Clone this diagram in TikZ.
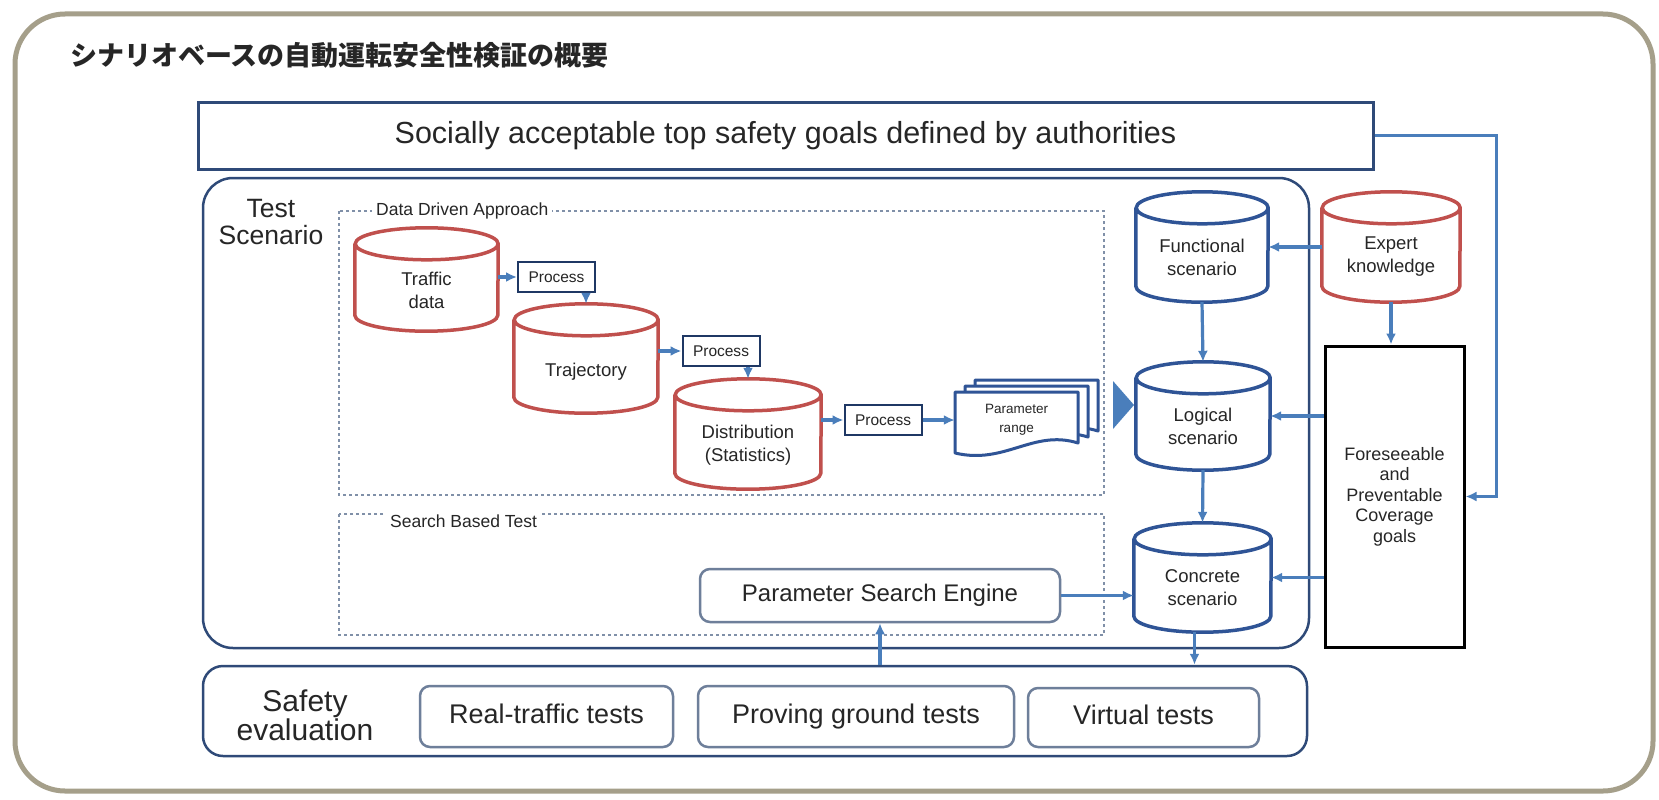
\documentclass[tikz,border=0pt]{standalone}
\usepackage{fontspec}
\setmainfont{Liberation Sans}
\newfontfamily\cjk{Noto Sans CJK JP}
\usetikzlibrary{arrows.meta,calc}

\definecolor{framec}{HTML}{A59F8A}
\definecolor{navy}{HTML}{2F4A78}
\definecolor{procc}{HTML}{1F3864}
\definecolor{cylblue}{HTML}{2F5496}
\definecolor{cylred}{HTML}{C0504D}
\definecolor{arrowc}{HTML}{4A7EBB}
\definecolor{dashc}{HTML}{8090A8}
\definecolor{boxgrey}{HTML}{6E7F9A}
\definecolor{textc}{HTML}{262626}

\newcommand\fs[2]{\fontsize{#1}{#2}\selectfont}

% outline of a vertical drum around a rectangular node
\newcommand\drawcyl[3]{%
  \draw[#2] ([yshift=-16pt]#1.north west) -- ([yshift=16pt]#1.south west)
    arc[start angle=180,end angle=360,x radius=#3pt,y radius=16pt]
    -- ([yshift=-16pt]#1.north east)
    arc[start angle=0,end angle=360,x radius=#3pt,y radius=16pt];}

% one sheet of a document stack
\newcommand\docsheet[4]{%
  \draw[docline] (#1,#2) -- (#3,#2) -- (#3,#4-10)
    .. controls ($(#3,#4-10)+(-45,-14)$) and ($(#1,#4)+(50,12)$) .. (#1,#4) -- cycle;}

\tikzset{
  every node/.style={text=textc},
  arr/.style={draw=arrowc, line width=3.2pt, -{Latex[length=11pt,width=10pt]}},
  slot/.style={rectangle, inner sep=0pt, draw=none},
  bluecyl/.style={draw=cylblue, line width=3.5pt, fill=white},
  redcyl/.style={draw=cylred, line width=3.5pt, fill=white},
  cyltext/.style={align=center, font=\fs{18.5}{23}},
  procbox/.style={rectangle, draw=procc, line width=2pt, fill=white, inner sep=0pt,
    minimum width=77pt, minimum height=30pt, font=\fs{15.5}{18}},
  container/.style={rectangle, draw=navy, line width=2.5pt, inner sep=0pt},
  dashbox/.style={draw=dashc, line width=1.6pt, dash pattern=on 3pt off 3pt},
  dashlabel/.style={anchor=west, fill=white, inner sep=4pt, font=\fs{17.5}{20}},
  testbox/.style={rectangle, draw=boxgrey, line width=2.5pt, rounded corners=10pt,
    fill=white, inner sep=0pt, font=\fs{27}{30}, text height=19.5pt, text depth=5.5pt},
  docline/.style={draw=cylblue, line width=3pt, fill=white, line join=round},
}

\begin{document}
\begin{tikzpicture}[x=1pt, y=-1pt]
\useasboundingbox (0,0) rectangle (1659,800);
\fill[white] (0,0) rectangle (1659,800);

% outer frame and heading
\draw[framec, line width=5pt, rounded corners=50pt] (15,14) rectangle (1653,791);
\node[anchor=west, inner sep=0pt, font=\cjk\bfseries\fs{27}{30}] (title) at (70,55)
  {シナリオベースの自動運転安全性検証の概要};

% top goal bar
\node[container, draw=navy, line width=3pt, minimum width=1175pt, minimum height=67pt,
  font=\fs{30.5}{36}] (goals) at (785.5,135.5)
  {Socially acceptable top safety goals defined by authorities};

% test scenario block
\node[container, rounded corners=30pt, minimum width=1106pt, minimum height=470pt] (ts) at (756,413) {};
\node[align=center, font=\fs{26.5}{27}] (tslabel) at (271,222) {Test\\Scenario};

% dashed groups
\draw[dashbox] (339,211) rectangle (1104,495);
\node[dashlabel] (ddlabel) at (372,211) {Data Driven Approach};
\draw[dashbox] (339,514) rectangle (1104,635);
\node[dashlabel] (sblabel) at (386,521) {Search Based Test};

% data driven chain
\node[slot, minimum width=143pt, minimum height=103pt] (traffic) at (426.5,279.5) {};
\drawcyl{traffic}{redcyl}{71.5}
\node[cyltext] (trafficT) at ([yshift=-11pt]traffic.center) {Traffic\\data};

\node[procbox] (p1) at (556.5,277) {Process};

\node[slot, minimum width=144pt, minimum height=109pt] (traj) at (586,358.5) {};
\drawcyl{traj}{redcyl}{72}
\node[cyltext] (trajT) at ([yshift=-13pt]traj.center) {Trajectory};

\node[procbox] (p2) at (721,351) {Process};

\node[slot, minimum width=146pt, minimum height=110pt] (dist) at (748,434) {};
\drawcyl{dist}{redcyl}{73}
\node[cyltext] (distT) at ([yshift=-11pt]dist.center) {Distribution\\(Statistics)};

\node[procbox] (p3) at (883,420) {Process};

% parameter range stack
\docsheet{975}{380}{1098}{441}
\docsheet{965}{386}{1088}{447}
\docsheet{955}{392}{1078}{453}
\node[slot, minimum width=123pt, minimum height=61pt, align=center, font=\fs{13.5}{19}]
  (prange) at (1016.5,420) {Parameter\\range};

\fill[arrowc] (1113,381) -- (1134,405) -- (1113,429) -- cycle;

\draw[arr] (traffic.east |- p1.west) -- (p1.west);
\draw[arr] (p1.south -| traj.north) -- (traj.north);
\draw[arr] (traj.east |- p2.west) -- (p2.west);
\draw[arr] (p2.south -| dist.north) -- (dist.north);
\draw[arr] (dist.east |- p3.west) -- (p3.west);
\draw[arr] (p3.east) -- (p3.east -| prange.west);

% scenario levels
\node[slot, minimum width=132pt, minimum height=110pt] (fun) at (1202,247) {};
\drawcyl{fun}{bluecyl}{66}
\node[cyltext] (funT) at ([yshift=-10pt]fun.center) {Functional\\scenario};

\node[slot, minimum width=134pt, minimum height=108pt] (logi) at (1203,416) {};
\drawcyl{logi}{bluecyl}{67}
\node[cyltext] (logiT) at ([yshift=-10pt]logi.center) {Logical\\scenario};

\node[slot, minimum width=137pt, minimum height=109pt] (conc) at (1202.5,577.5) {};
\drawcyl{conc}{bluecyl}{68.5}
\node[cyltext] (concT) at ([yshift=-10pt]conc.center) {Concrete\\scenario};

\node[slot, minimum width=138pt, minimum height=110pt] (expert) at (1391,247) {};
\drawcyl{expert}{redcyl}{69}
\node[cyltext] (expertT) at ([yshift=-10pt]expert.center) {Expert\\knowledge};

\node[rectangle, draw=black, line width=3pt, inner sep=0pt, minimum width=139pt,
  minimum height=301pt, align=center, font=\fs{18}{20.5}] (fore) at (1394.5,496.5)
  {Foreseeable\\and\\Preventable\\Coverage\\goals};

\node[testbox, minimum width=360pt, minimum height=53pt, font=\fs{24}{28},
  text height=17.5pt, text depth=5pt] (pse) at (880,595.5)
  {Parameter Search Engine};

% safety evaluation block
\node[container, rounded corners=20pt, minimum width=1104pt, minimum height=90pt] (se) at (755,711) {};
\node[align=center, font=\fs{30}{29}] (selabel) at (305,715) {Safety\\evaluation};
\node[testbox, minimum width=253pt, minimum height=61pt] (real) at (546.5,716.5) {Real-traffic tests};
\node[testbox, minimum width=316pt, minimum height=61pt] (prov) at (856,716.5) {Proving ground tests};
\node[testbox, minimum width=231pt, minimum height=59pt] (virt) at (1143.5,717.5) {Virtual tests};

% connectors
\draw[arr] (fun.south) -- (logi.north);
\draw[arr] (logi.south) -- (conc.north);
\draw[arr] (expert.west) -- (fun.east);
\draw[arr] (expert.south) -- (expert.south |- fore.north);
\draw[arr] (fore.west |- logi.east) -- (logi.east);
\draw[arr] (fore.west |- conc.east) -- (conc.east);
\draw[arr] (goals.east) -- ++(122,0) |- (fore.east);
\draw[arr] (pse.east) -- (pse.east -| conc.west);
\draw[arr] (se.north -| pse.south) -- (pse.south);
\draw[arr] ([xshift=-8pt]conc.south) -- ([xshift=-8pt]conc.south |- se.north);
\end{tikzpicture}
\end{document}
